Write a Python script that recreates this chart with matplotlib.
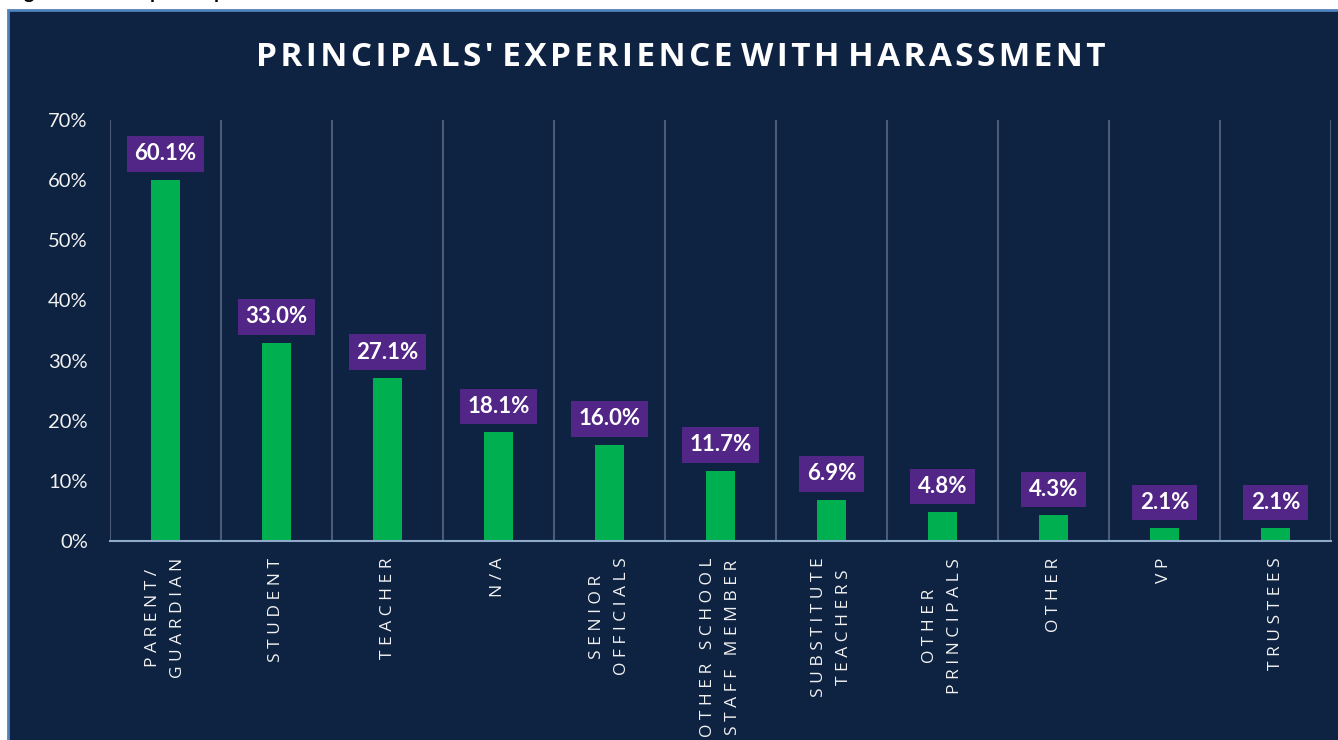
import matplotlib
matplotlib.use("Agg")
import matplotlib.pyplot as plt
from matplotlib.patches import Rectangle
import numpy as np

categories = ["PARENT/\nGUARDIAN", "STUDENT", "TEACHER", "N/A", "SENIOR\nOFFICIALS",
              "OTHER SCHOOL\nSTAFF MEMBER", "SUBSTITUTE\nTEACHERS", "OTHER\nPRINCIPALS",
              "OTHER", "VP", "TRUSTEES"]
values = [60.1, 33.0, 27.1, 18.1, 16.0, 11.7, 6.9, 4.8, 4.3, 2.1, 2.1]
yticks = [0, 10, 20, 30, 40, 50, 60, 70]
title = "PRINCIPALS' EXPERIENCE WITH HARASSMENT"
caption = "Figure 18: Principals' experience with harassment"

PANEL = "#0e2241"
BAR = "#00b050"
BOX = "#522686"
GRID = "#4b5b78"
BASE = "#8ea9c9"
TXT = "#f2f2f2"
FONT = "Lato"

W, H = 1338, 740
fig = plt.figure(figsize=(W / 100, H / 100), dpi=100, facecolor="white")

# panel background with light blue border
fig.patches.append(Rectangle((8 / W, -5 / H), (W + 10) / W, (H - 10 + 5) / H,
                             transform=fig.transFigure, facecolor=PANEL,
                             edgecolor="#4f81bd", linewidth=2, zorder=0))

# cropped caption at the very top (as in the reference)
fig.text(8 / W, 1.0 + 1 / H, caption, fontsize=14, fontweight="bold", color="black",
         family=FONT, ha="left", va="baseline")


def spaced(s, gap=" "):
    lines = []
    for line in s.split("\n"):
        words = line.split(" ")
        lines.append("   ".join(gap.join(list(w)) for w in words))
    return "\n".join(lines)


fig.text(681 / W, 1 - 58 / H, "\u200a".join(list(title)).replace("\u200a \u200a", " "),
         fontsize=24, fontweight="bold", color="white", family="Open Sans",
         ha="center", va="center", zorder=3)

left, right, top, bottom = 110, 1331, 120, 541
ax = fig.add_axes([left / W, 1 - bottom / H, (right - left) / W, (bottom - top) / H])
ax.set_facecolor("none")
ax.set_zorder(2)

x = np.arange(len(categories))
ax.bar(x, values, width=0.27, color=BAR, zorder=3)
ax.set_xlim(-0.5, len(categories) - 0.5)
ax.set_ylim(0, 70)

# vertical separators between categories
ax.set_xticks(np.arange(len(categories) + 1) - 0.5, minor=True)
ax.grid(True, axis="x", which="minor", color=GRID, linewidth=1.5, zorder=1)
ax.grid(False, axis="x", which="major")
ax.tick_params(axis="x", which="minor", length=0)

for s in ["top", "right", "left"]:
    ax.spines[s].set_visible(False)
ax.spines["bottom"].set_color(BASE)
ax.spines["bottom"].set_linewidth(1.5)
ax.spines["bottom"].set_zorder(4)

ax.set_yticks(yticks)
ax.set_yticklabels([f"{v}%" for v in yticks], fontsize=14.5, color=TXT, family=FONT)
ax.tick_params(axis="y", length=0, pad=16)

ax.set_xticks(x)
ax.set_xticklabels([spaced(c) for c in categories], rotation=90, fontsize=12.5,
                   color=TXT, family="Open Sans", va="top", ha="center", linespacing=1.75)
ax.tick_params(axis="x", which="major", length=0, pad=12)

for xi, v in zip(x, values):
    ax.annotate(f"{v:.1f}%", (xi, v), xytext=(0, 11), textcoords="offset points",
                ha="center", va="bottom", fontsize=16, fontweight="bold", color="white",
                family=FONT, zorder=5,
                bbox=dict(boxstyle="square,pad=0.33", facecolor=BOX, edgecolor="none"))

fig.savefig("out.png", dpi=100, facecolor="white")
